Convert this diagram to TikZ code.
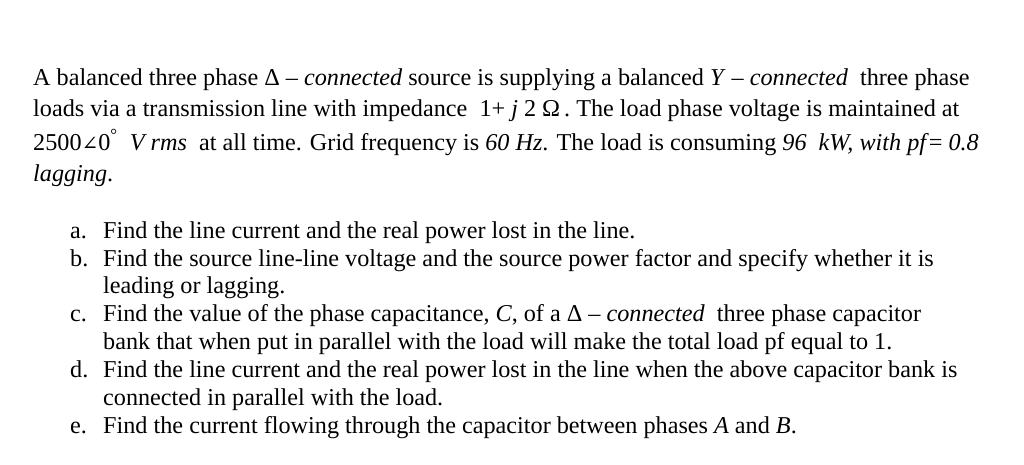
\documentclass[tikz,border=0pt]{standalone}
\usepackage{fontspec}
\setmainfont{Liberation Serif}
\newfontfamily\symf{DejaVu Serif}
\begin{document}
\begin{tikzpicture}[x=1pt,y=-1pt,
 t/.style={anchor=base west,inner sep=0pt,font=\fontsize{24.2}{28}\selectfont}]
\useasboundingbox[fill=white] (0,0) rectangle (1024,465);
\node[t] (l1) at (33,86) {A balanced three phase Δ – \textit{connected} source is supplying a balanced \textit{Y} – \textit{connected}\ \ three phase};
\node[t] (l2) at (33,117) {loads via a transmission line with impedance\ \ 1+ \textit{j} 2\ Ω\,. The load phase voltage is maintained at};
\node[t] (l3) at (33,150) {2500{\symf\fontsize{20}{24}\selectfont ∠}0\textsuperscript{°}\ \ \textit{V rms}\ \ at all time. Grid frequency is \textit{60 Hz}. The load is consuming \textit{96\ \ kW, with pf}= \textit{0.8}};
\node[t] (l4) at (33,182) {\textit{lagging}.};
\node[t] (a) at (70,238) {a.};
\node[t] (at) at (103,238) {Find the line current and the real power lost in the line.};
\node[t] (b) at (70,266) {b.};
\node[t] (bt) at (103,266) {Find the source line-line voltage and the source power factor and specify whether it is};
\node[t] (bt2) at (103,293) {leading or lagging.};
\node[t] (c) at (70,321) {c.};
\node[t] (ct) at (103,321) {Find the value of the phase capacitance, \textit{C}, of a Δ – \textit{connected}\ \ three phase capacitor};
\node[t] (ct2) at (103,349) {bank that when put in parallel with the load will make the total load pf equal to 1.};
\node[t] (d) at (70,377) {d.};
\node[t] (dt) at (103,377) {Find the line current and the real power lost in the line when the above capacitor bank is};
\node[t] (dt2) at (103,405) {connected in parallel with the load.};
\node[t] (e) at (70,433) {e.};
\node[t] (et) at (103,433) {Find the current flowing through the capacitor between phases \textit{A} and \textit{B}.};
\end{tikzpicture}
\end{document}
